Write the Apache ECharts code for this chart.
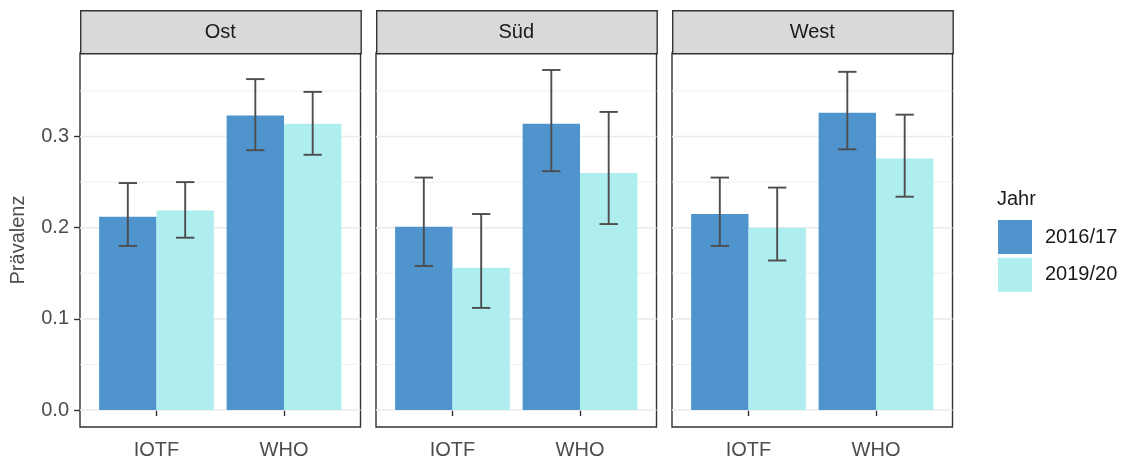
<!DOCTYPE html>
<html>
<head>
<meta charset="utf-8">
<script src="https://cdn.jsdelivr.net/npm/echarts@6/dist/echarts.min.js"></script>
<style>
  html, body { margin: 0; padding: 0; background: #ffffff; }
  #chart { width: 1125px; height: 461px; }
</style>
</head>
<body>
<div id="chart"></div>
<script>
// ---------- data ----------
const facets = ['Ost', 'Süd', 'West'];
const categories = ['IOTF', 'WHO'];
const years = ['2016/17', '2019/20'];
const yTicks = [0, 0.1, 0.2, 0.3];
const yMinorTicks = [0.05, 0.15, 0.25, 0.35];

// prevalence per facet, per category [IOTF, WHO]
const ost2016 = [0.212, 0.323];
const ost2016Lo = [0.180, 0.285];
const ost2016Hi = [0.249, 0.363];
const ost2019 = [0.219, 0.314];
const ost2019Lo = [0.189, 0.280];
const ost2019Hi = [0.250, 0.349];

const sud2016 = [0.201, 0.314];
const sud2016Lo = [0.158, 0.262];
const sud2016Hi = [0.255, 0.373];
const sud2019 = [0.156, 0.260];
const sud2019Lo = [0.112, 0.204];
const sud2019Hi = [0.215, 0.327];

const west2016 = [0.215, 0.326];
const west2016Lo = [0.180, 0.286];
const west2016Hi = [0.255, 0.371];
const west2019 = [0.200, 0.276];
const west2019Lo = [0.164, 0.234];
const west2019Hi = [0.244, 0.324];

// ---------- assembly ----------
const facetData = [
  [[ost2016, ost2016Lo, ost2016Hi], [ost2019, ost2019Lo, ost2019Hi]],
  [[sud2016, sud2016Lo, sud2016Hi], [sud2019, sud2019Lo, sud2019Hi]],
  [[west2016, west2016Lo, west2016Hi], [west2019, west2019Lo, west2019Hi]]
];
const colors = ['#4F94CD', '#AEEEEE'];
const errColor = '#4D4D4D';
const fontFamily = '"Liberation Sans", Arial, sans-serif';
const fs = 20;

const allHi = [].concat(ost2016Hi, ost2019Hi, sud2016Hi, sud2019Hi, west2016Hi, west2019Hi);
const dataMax = Math.max.apply(null, allHi);
const yMin = -0.05 * dataMax;
const yMax = 1.05 * dataMax;
const xMin = 0.4, xMax = 2.6;

const panelLefts = [80, 376, 672];
const panelTop = 53;
const panelW = 280.5;
const panelH = 374;
const stripTop = 10;

const dodge = 0.45;      // half of 0.9 bar group width
const capHalf = 0.072;   // error bar cap half-width

const grids = [], xAxes = [], yAxes = [], series = [], graphics = [];

facets.forEach((name, fi) => {
  grids.push({
    left: panelLefts[fi], top: panelTop, width: panelW, height: panelH,
    show: true, backgroundColor: '#ffffff', borderColor: '#333333', borderWidth: 1.4,
    containLabel: false
  });
  xAxes.push({
    type: 'value', gridIndex: fi, min: xMin, max: xMax,
    axisLine: { show: false },
    splitLine: { show: false },
    axisTick: { show: true, customValues: [1, 2], length: 6, lineStyle: { color: '#333333', width: 1.4 } },
    axisLabel: {
      show: true, customValues: [1, 2], margin: 13,
      formatter: v => categories[Math.round(v) - 1] || '',
      color: '#4D4D4D', fontSize: fs, fontFamily: fontFamily
    }
  });
  yAxes.push({
    type: 'value', gridIndex: fi, min: yMin, max: yMax,
    name: fi === 0 ? 'Prävalenz' : '',
    nameLocation: 'middle', nameGap: 52,
    nameTextStyle: { color: '#4D4D4D', fontSize: fs, fontFamily: fontFamily },
    axisLine: { show: false },
    splitLine: { show: false },
    axisTick: { show: fi === 0, customValues: yTicks, length: 6, lineStyle: { color: '#333333', width: 1.4 } },
    axisLabel: {
      show: fi === 0, customValues: yTicks, margin: 11,
      formatter: v => v.toFixed(1),
      color: '#4D4D4D', fontSize: fs, fontFamily: fontFamily
    }
  });

  // gridlines (major + minor) beneath bars
  const gridRows = yTicks.map(v => [v, 1.6]).concat(yMinorTicks.map(v => [v, 0.8]));
  series.push({
    type: 'custom', xAxisIndex: fi, yAxisIndex: fi, z: 1, silent: true, animation: false,
    data: gridRows,
    renderItem: (params, api) => {
      const v = api.value(0), w = api.value(1);
      const a = api.coord([xMin, v]), b = api.coord([xMax, v]);
      return { type: 'line', shape: { x1: a[0], y1: a[1], x2: b[0], y2: b[1] },
               style: { stroke: '#EBEBEB', lineWidth: w } };
    }
  });

  // bars + error bars
  facetData[fi].forEach((yr, yi) => {
    const [vals, los, his] = yr;
    series.push({
      type: 'custom', name: years[yi], xAxisIndex: fi, yAxisIndex: fi, z: 3,
      itemStyle: { color: colors[yi] },
      animation: false,
      data: categories.map((c, ci) => [ci + 1, vals[ci], los[ci], his[ci]]),
      renderItem: (params, api) => {
        const x = api.value(0);
        const v = api.value(1), lo = api.value(2), hi = api.value(3);
        const x0 = x + (yi === 0 ? -dodge : 0);
        const xc = x0 + dodge / 2;
        const pTop = api.coord([x0, v]);
        const pBot = api.coord([x0 + dodge, 0]);
        const pHi = api.coord([xc, hi]);
        const pLo = api.coord([xc, lo]);
        const capL = api.coord([xc - capHalf, hi])[0];
        const capR = api.coord([xc + capHalf, hi])[0];
        const errStyle = { stroke: errColor, lineWidth: 1.9, fill: null };
        return {
          type: 'group',
          children: [
            { type: 'rect', shape: { x: pTop[0], y: pTop[1], width: pBot[0] - pTop[0], height: pBot[1] - pTop[1] },
              style: { fill: colors[yi] } },
            { type: 'line', shape: { x1: pHi[0], y1: pHi[1], x2: pLo[0], y2: pLo[1] }, style: errStyle, z2: 5 },
            { type: 'line', shape: { x1: capL, y1: pHi[1], x2: capR, y2: pHi[1] }, style: errStyle, z2: 5 },
            { type: 'line', shape: { x1: capL, y1: pLo[1], x2: capR, y2: pLo[1] }, style: errStyle, z2: 5 }
          ]
        };
      }
    });
  });

  // strip
  graphics.push({
    type: 'rect', left: panelLefts[fi], top: stripTop,
    shape: { width: panelW, height: panelTop - stripTop },
    style: { fill: '#D9D9D9', stroke: '#333333', lineWidth: 1.4 }, z: 10
  });
  graphics.push({
    type: 'text', x: panelLefts[fi] + panelW / 2, y: (stripTop + panelTop) / 2 + 1,
    style: { text: name, fill: '#1A1A1A', font: fs + 'px ' + fontFamily, textAlign: 'center', textVerticalAlign: 'middle' },
    z: 11
  });
});

// legend title
graphics.push({
  type: 'text', x: 997, y: 199,
  style: { text: 'Jahr', fill: '#1A1A1A', font: fs + 'px ' + fontFamily, textAlign: 'left', textVerticalAlign: 'middle' },
  z: 11
});

const option = {
  backgroundColor: '#ffffff',
  animation: false,
  grid: grids,
  xAxis: xAxes,
  yAxis: yAxes,
  legend: {
    data: years, orient: 'vertical', left: 998, top: 220,
    itemWidth: 34, itemHeight: 34, itemGap: 3.7, padding: 0,
    icon: 'rect', selectedMode: false,
    textStyle: { color: '#1A1A1A', fontSize: fs, fontFamily: fontFamily, padding: [0, 0, 0, 8] }
  },
  graphic: graphics,
  series: series
};

const chart = echarts.init(document.getElementById('chart'), null, { renderer: 'canvas' });
chart.setOption(option);
</script>
</body>
</html>
